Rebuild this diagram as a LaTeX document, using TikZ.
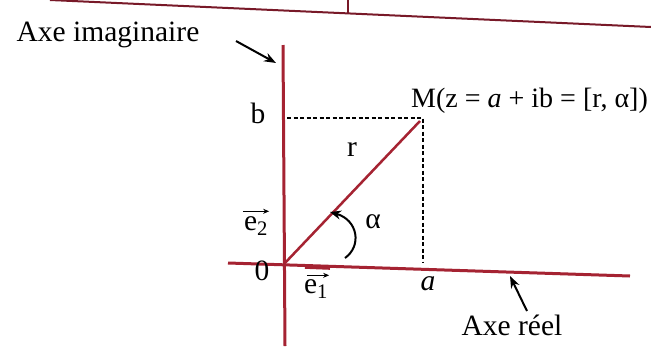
\documentclass[tikz,border=0pt]{standalone}
\usepackage{fontspec}
\setmainfont{Liberation Serif}
\usetikzlibrary{arrows.meta}
\definecolor{axered}{RGB}{165,35,50}
\definecolor{tablered}{RGB}{120,25,40}
\begin{document}
\begin{tikzpicture}[x=1pt,y=-1pt,
  lbl/.style={inner sep=0pt,font=\fontsize{29.5}{33}\selectfont},
  axisline/.style={draw=axered,line width=3pt},
  vecline/.style={draw=axered,line width=2.5pt},
  guide/.style={draw=black,line width=2.2pt,dash pattern=on 4pt off 2.5pt},
  pointer/.style={draw=black,line width=2pt,-{Stealth[length=12pt,width=9pt]}},
  vecarrow/.style={draw=black,line width=1.4pt,-{Stealth[length=6pt,width=5pt]}},
  tableline/.style={draw=tablered,line width=2pt}]
\useasboundingbox (0,0) rectangle (651,346);
\fill[white] (0,0) rectangle (651,346);
% table border fragment at the top
\coordinate (T1) at (50,0);
\coordinate (T2) at (651,27);
\coordinate (T3) at (348,0);
\coordinate (T4) at (348,14);
\draw[tableline] (T1) -- (T2);
\draw[tableline] (T3) -- (T4);
% axes
\coordinate (O) at (284,264);
\coordinate (Ytop) at (283,45);
\coordinate (Ybot) at (285,346);
\coordinate (Xl) at (228,263);
\coordinate (Xr) at (630,276);
\draw[axisline] (Ytop) -- (Ybot);
\draw[axisline] (Xl) -- (Xr);
% point M and guides
\coordinate (M) at (420,121);
\coordinate (Bp) at (287,118);
\coordinate (Mc) at (423,118);
\coordinate (Ap) at (423,262);
\draw[guide] (Bp) -- (Mc) -- (Ap);
\draw[vecline] (O) -- (M);
% e1 vector on axis
\coordinate (E1a) at (305,267);
\coordinate (E1b) at (330,268);
\draw[draw=axered,line width=3.6pt] (E1a) -- (E1b);
% angle arrow
\coordinate (Aa) at (345,258);
\coordinate (Ab) at (330,212);
\draw[draw=black,line width=2pt,-{Stealth[length=11pt,width=9pt]}] (Aa) .. controls (362,246) and (358,220) .. (Ab);
% labels
\node[lbl] (b) at (258,113) {b};
\node[lbl,anchor=base west,font=\fontsize{28}{32}\selectfont] (Mlab) at (411,107) {M(z = \textit{a} + ib = [r, α])};
\node[lbl] (r) at (352,150) {r};
\node[lbl] (alpha) at (373,222) {α};
\node[lbl] (e2) at (256,226) {e\textsubscript{2}};
\draw[vecarrow] ([xshift=-1pt,yshift=5pt]e2.north west) -- ([xshift=1pt,yshift=5pt]e2.north east);
\node[lbl] (zero) at (262,271) {0};
\node[lbl] (e1) at (316,289) {e\textsubscript{1}};
\draw[vecarrow] ([xshift=3pt,yshift=4pt]e1.north west) -- ([xshift=1pt,yshift=4pt]e1.north east);
\node[lbl] (alab) at (428,284) {\textit{a}};
\node[lbl] (imag) at (108,35) {Axe imaginaire};
\node[lbl] (reel) at (512,325) {Axe réel};
% pointers
\coordinate (Pi1) at (236,41);
\coordinate (Pi2) at (276,63);
\draw[pointer] (Pi1) -- (Pi2);
\coordinate (Pr1) at (527,311);
\coordinate (Pr2) at (510,276);
\draw[pointer] (Pr1) -- (Pr2);
\end{tikzpicture}
\end{document}
